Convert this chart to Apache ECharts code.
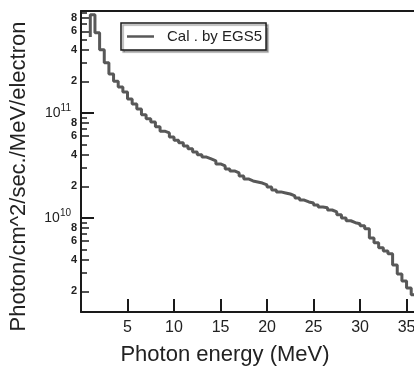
<!DOCTYPE html>
<html>
<head>
<meta charset="utf-8">
<script src="https://cdn.jsdelivr.net/npm/echarts@6/dist/echarts.min.js"></script>
<style>
  html, body { margin: 0; padding: 0; background: #fff; }
  #chart { width: 414px; height: 367px; }
</style>
</head>
<body>
<div id="chart"></div>
<script>
// bin upper edges in MeV (first entry = where the histogram starts)
const energy = [
  1.0, 1.5, 2.0, 2.5, 3.0, 3.5, 4.0, 4.5, 5.0, 5.5, 6.0, 6.5, 7.0, 7.5, 8.0, 8.5,
  9.0, 9.5, 10.0, 10.5, 11.0, 11.5, 12.0, 12.5, 13.0, 13.5, 14.0, 14.5, 15.0, 15.5,
  16.0, 16.5, 17.0, 17.5, 18.0, 18.5, 19.0, 19.5, 20.0, 20.5, 21.0, 21.5, 22.0, 22.5,
  23.0, 23.5, 24.0, 24.5, 25.0, 25.5, 26.0, 26.5, 27.0, 27.5, 28.0, 28.5, 29.0, 29.5,
  30.0, 30.5, 31.0, 31.5, 32.0, 32.5, 33.0, 33.5, 34.0, 34.5, 35.0, 35.5, 36.0
];
// photon/cm^2/sec./MeV/electron for the bin ending at energy[i]
const flux = [
  5.3e11, 8.6e11, 5.8e11, 4.0e11, 3.0e11, 2.35e11, 2.0e11, 1.77e11, 1.58e11, 1.36e11,
  1.22e11, 1.09e11, 9.6e10, 8.8e10, 8.2e10, 7.4e10, 6.7e10, 6.45e10, 5.9e10, 5.5e10,
  5.2e10, 4.85e10, 4.55e10, 4.25e10, 4.0e10, 3.8e10, 3.65e10, 3.5e10, 3.27e10, 3.13e10,
  2.93e10, 2.8e10, 2.68e10, 2.51e10, 2.35e10, 2.25e10, 2.2e10, 2.15e10, 2.06e10, 1.97e10,
  1.85e10, 1.77e10, 1.73e10, 1.69e10, 1.62e10, 1.55e10, 1.48e10, 1.42e10, 1.39e10, 1.33e10,
  1.27e10, 1.25e10, 1.19e10, 1.14e10, 1.07e10, 1.0e10, 9.4e9, 9.0e9, 8.8e9, 8.4e9,
  7.9e9, 6.45e9, 5.8e9, 5.2e9, 4.85e9, 4.55e9, 3.56e9, 2.93e9, 2.51e9, 2.15e9, 1.85e9
];

const xTicks = [5, 10, 15, 20, 25, 30, 35];
const decadeTicks = [1e10, 1e11];
const labeledMinor = [2e9, 4e9, 6e9, 8e9, 2e10, 4e10, 6e10, 8e10, 2e11, 4e11, 6e11, 8e11];
const plainMinor = [3e9, 5e9, 7e9, 9e9, 3e10, 5e10, 7e10, 9e10, 3e11, 5e11, 7e11, 9e11];

const xMin = 0, xMax = 35.8;
const yMin = 1.27e9, yMax = 9.36e11;

const FONT = "'Liberation Sans', Arial, sans-serif";
const INK = "#1a1a1a";
const CURVE = "#585858";

const lg = (v) => Math.log10(v);
const lo = lg(yMin), hi = lg(yMax);

const chart = echarts.init(document.getElementById("chart"));

const option = {
  animation: false,
  backgroundColor: "#fff",
  textStyle: { fontFamily: FONT },
  grid: { left: 81, right: 0, top: 11, bottom: 55, outerBoundsMode: "none" },
  legend: {
    data: ["Cal . by EGS5"],
    left: 121,
    top: 23,
    padding: [6, 4, 6, 6],
    borderColor: INK,
    borderWidth: 1.5,
    backgroundColor: "#fff",
    shadowColor: "rgba(0,0,0,0.35)",
    shadowBlur: 1,
    shadowOffsetX: 2,
    shadowOffsetY: 2,
    icon: "rect",
    itemWidth: 27,
    itemHeight: 2.5,
    itemStyle: { color: CURVE },
    textStyle: { fontSize: 15, color: "#222", fontFamily: FONT, padding: [0, 0, 0, 8] },
  },
  xAxis: [
    {
      type: "value",
      min: xMin,
      max: xMax,
      position: "bottom",
      axisLine: { lineStyle: { color: INK, width: 2 } },
      axisTick: { inside: true, length: 13, customValues: xTicks, lineStyle: { color: INK, width: 2 } },
      axisLabel: { customValues: xTicks, fontSize: 16, color: "#222", margin: 8 },
      splitLine: { show: false },
      name: "Photon energy (MeV)",
      nameLocation: "middle",
      nameGap: 32,
      nameTextStyle: { fontSize: 22, color: "#222", padding: [0, 45, 0, 0] },
    },
    {
      type: "value",
      min: xMin,
      max: xMax,
      position: "top",
      axisLine: { lineStyle: { color: INK, width: 2 } },
      axisTick: { show: false },
      axisLabel: { show: false },
      splitLine: { show: false },
    },
  ],
  yAxis: [
    // the data axis
    { type: "log", min: yMin, max: yMax, show: false },
    // decades: long ticks + 10^n labels
    {
      type: "value",
      min: lo,
      max: hi,
      position: "left",
      axisLine: { show: true, lineStyle: { color: INK, width: 2 } },
      axisTick: { inside: true, length: 13, customValues: decadeTicks.map(lg), lineStyle: { color: INK, width: 2 } },
      axisLabel: {
        customValues: decadeTicks.map(lg),
        margin: 10,
        formatter: (v) => "{m|10}{s|" + Math.round(v) + "}",
        rich: {
          m: { fontSize: 14, color: "#222", fontFamily: FONT },
          s: { fontSize: 10, color: "#222", fontFamily: FONT, padding: [0, 0, 9, 0] },
        },
      },
      splitLine: { show: false },
      name: "Photon/cm^2/sec./MeV/electron",
      nameLocation: "middle",
      nameGap: 51,
      nameTextStyle: { fontSize: 22, color: "#222", padding: [0, 30, 0, 0] },
    },
    // 2,4,6,8 ticks with labels
    {
      type: "value",
      min: lo,
      max: hi,
      position: "left",
      axisLine: { show: false },
      axisTick: { inside: true, length: 8, customValues: labeledMinor.map(lg), lineStyle: { color: INK, width: 1.5 } },
      axisLabel: {
        customValues: labeledMinor.map(lg),
        margin: 4,
        fontSize: 11,
        fontWeight: "bold",
        color: "#222",
        formatter: (v) => String(Math.round(Math.pow(10, v - Math.floor(v + 1e-9)))),
      },
      splitLine: { show: false },
    },
    // 3,5,7,9 ticks only
    {
      type: "value",
      min: lo,
      max: hi,
      position: "left",
      axisLine: { show: false },
      axisTick: { inside: true, length: 6, customValues: plainMinor.map(lg), lineStyle: { color: INK, width: 1.5 } },
      axisLabel: { show: false },
      splitLine: { show: false },
    },
  ],
  series: [
    {
      name: "Cal . by EGS5",
      type: "line",
      xAxisIndex: 0,
      yAxisIndex: 0,
      step: "start",
      symbol: "none",
      lineStyle: { color: CURVE, width: 3 },
      itemStyle: { color: CURVE },
      data: energy.map((e, i) => [e, flux[i]]),
    },
  ],
};

chart.setOption(option);
</script>
</body>
</html>
